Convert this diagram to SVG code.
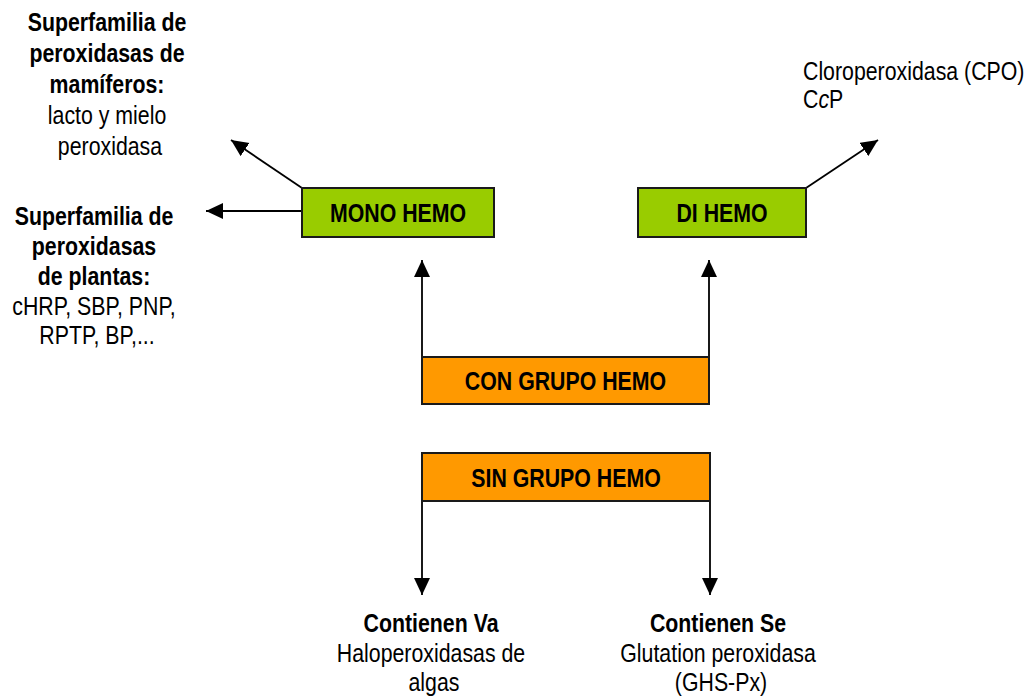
<svg xmlns="http://www.w3.org/2000/svg" width="1030" height="698" viewBox="0 0 1030 698">
<style>
  text { font-family: "Liberation Sans", Arial, sans-serif; font-size: 26px; fill: #000; }
  .b { font-weight: bold; }
  .c { text-anchor: middle; }
  .green { fill: #99CC00; stroke: #1a1a1a; stroke-width: 2; }
  .orange { fill: #FF9900; stroke: #1a1a1a; stroke-width: 2; }
  .conn { stroke: #000; stroke-width: 1.8; fill: none; }
</style>
<defs>
  <marker id="ah" markerUnits="userSpaceOnUse" markerWidth="18" markerHeight="17" refX="17" refY="8" orient="auto" viewBox="0 0 18 17">
    <path d="M0,0 L17,8 L0,16 z" fill="#000"/>
  </marker>
</defs>
<rect width="1030" height="698" fill="#fff"/>

<g id="connectors">
  <line class="conn" x1="302" y1="188" x2="231" y2="140" marker-end="url(#ah)"/>
  <line class="conn" x1="302" y1="211" x2="206" y2="211" marker-end="url(#ah)"/>
  <line class="conn" x1="806" y1="188" x2="878" y2="140" marker-end="url(#ah)"/>
  <line class="conn" x1="422" y1="357" x2="422" y2="260" marker-end="url(#ah)"/>
  <line class="conn" x1="709" y1="357" x2="709" y2="260" marker-end="url(#ah)"/>
  <line class="conn" x1="422" y1="501" x2="422" y2="595" marker-end="url(#ah)"/>
  <line class="conn" x1="710" y1="501" x2="710" y2="595" marker-end="url(#ah)"/>
</g>

<g id="mono-hemo">
  <rect class="green" x="302" y="188" width="192" height="49"/>
  <text class="b c" x="398" y="222" transform="matrix(0.82,0,0,1,71.64,0)">MONO HEMO</text>
</g>
<g id="di-hemo">
  <rect class="green" x="638" y="188" width="168" height="49"/>
  <text class="b c" x="722" y="222" transform="matrix(0.82,0,0,1,129.96,0)">DI HEMO</text>
</g>
<g id="con-grupo-hemo">
  <rect class="orange" x="422" y="357" width="287" height="47"/>
  <text class="b c" x="565.5" y="390" transform="matrix(0.82,0,0,1,101.79,0)">CON GRUPO HEMO</text>
</g>
<g id="sin-grupo-hemo">
  <rect class="orange" x="422" y="453" width="288" height="48"/>
  <text class="b c" x="566" y="487" transform="matrix(0.82,0,0,1,101.88,0)">SIN GRUPO HEMO</text>
</g>

<g id="mamiferos" transform="matrix(0.82,0,0,1,19.8,0)">
  <text class="c" x="110">
    <tspan class="b" x="110" y="31">Superfamilia de</tspan>
    <tspan class="b" x="110" y="62">peroxidasas de</tspan>
    <tspan class="b" x="110" y="93">mamíferos:</tspan>
    <tspan x="110" y="124">lacto y mielo</tspan>
    <tspan x="110" y="155">peroxidasa</tspan>
  </text>
</g>
<g id="plantas" transform="matrix(0.82,0,0,1,17.46,0)">
  <text class="c" x="97">
    <tspan class="b" x="97" y="225">Superfamilia de</tspan>
    <tspan class="b" x="97" y="255">peroxidasas</tspan>
    <tspan class="b" x="97" y="285">de plantas:</tspan>
    <tspan x="97" y="315">cHRP, SBP, PNP,</tspan>
    <tspan x="97" y="344">RPTP, BP,...</tspan>
  </text>
</g>
<g id="cpo" transform="matrix(0.82,0,0,1,144.54,0)">
  <text x="803" y="80">Cloroperoxidasa (CPO)</text>
  <text x="803" y="108">C<tspan font-style="italic">c</tspan>P</text>
</g>
<g id="contienen-va" transform="matrix(0.82,0,0,1,78.12,0)">
  <text class="c" x="434">
    <tspan class="b" x="434" y="632">Contienen Va</tspan>
    <tspan x="434" y="662">Haloperoxidasas de</tspan>
    <tspan x="434" y="691">algas</tspan>
  </text>
</g>
<g id="contienen-se" transform="matrix(0.82,0,0,1,129.78,0)">
  <text class="c" x="721">
    <tspan class="b" x="721" y="632">Contienen Se</tspan>
    <tspan x="721" y="662">Glutation peroxidasa</tspan>
    <tspan x="721" y="691">(GHS-Px)</tspan>
  </text>
</g>
</svg>
